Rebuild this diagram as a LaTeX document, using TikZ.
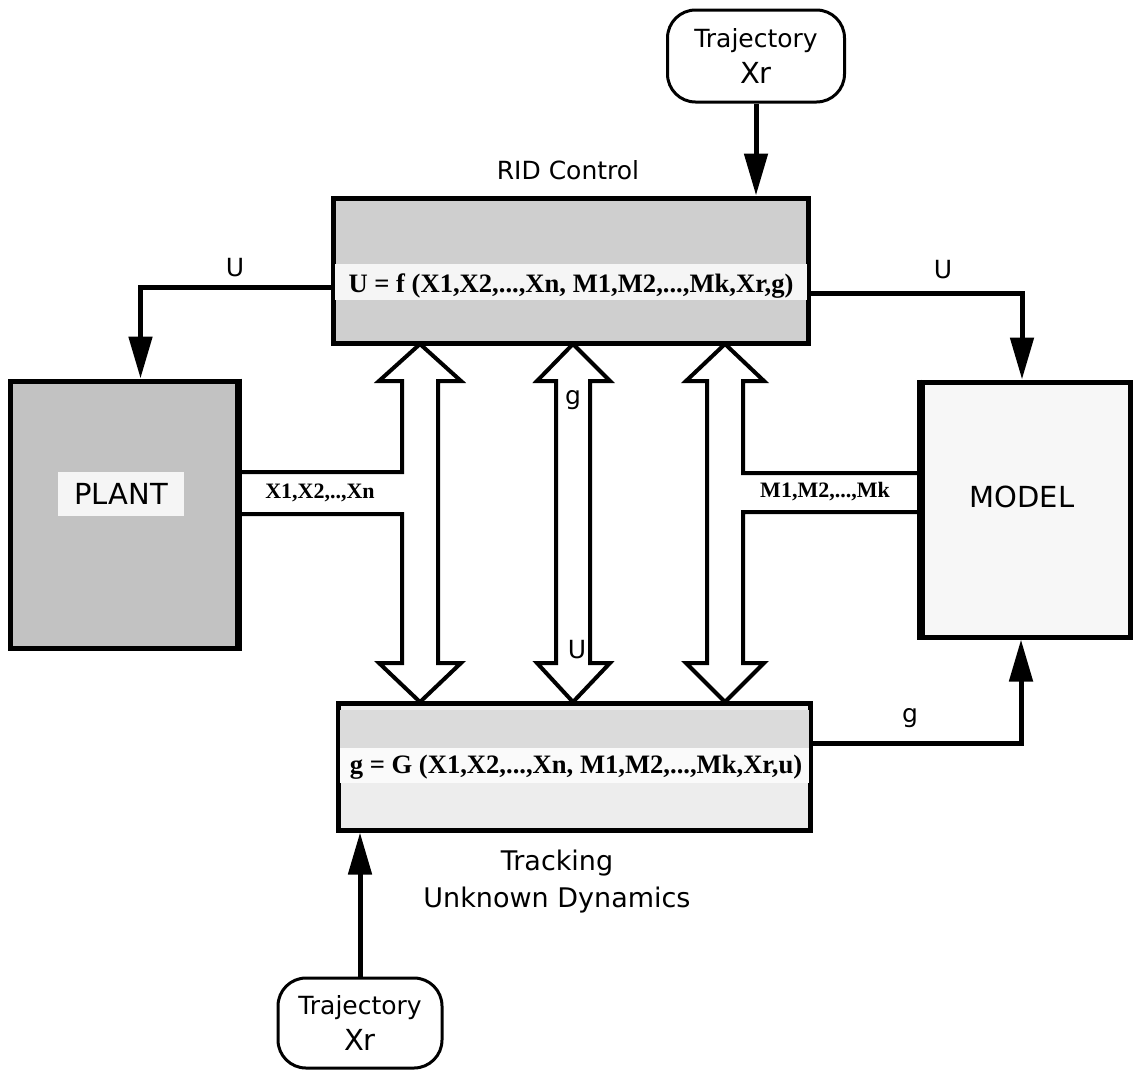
\documentclass[tikz,border=0pt]{standalone}
\usepackage{fontspec}
\setmainfont{Liberation Serif}
\setsansfont{DejaVu Sans}
\usetikzlibrary{arrows.meta,calc}
\begin{document}
\begin{tikzpicture}[x=0.5pt,y=-0.5pt,
  box/.style={draw,line width=2.5pt,inner sep=0pt},
  traj/.style={draw,line width=1.5pt,rounded corners=14pt,align=center,inner sep=0pt,
    font=\sffamily\fontsize{12.5}{15}\selectfont},
  conn/.style={line width=2.5pt,-{Triangle[length=21pt,width=11.5pt]}},
  dbl/.style={draw,line width=2pt,fill=white,line join=miter},
  lbl/.style={font=\sffamily\fontsize{12.5}{15}\selectfont,inner sep=0pt},
  big/.style={font=\sffamily\fontsize{14.5}{17}\selectfont,inner sep=0pt},
  eq/.style={font=\bfseries\fontsize{13.3}{16}\selectfont,inner sep=0pt},
  ch/.style={font=\bfseries\fontsize{11}{13}\selectfont,inner sep=0pt}]
\useasboundingbox[fill=white] (0,0) rectangle (1135,1072);

% coordinates for channel heights
\coordinate (xa) at (0,472);
\coordinate (xb) at (0,514);
\coordinate (ma) at (0,473);
\coordinate (mb) at (0,512);

% boxes
\node[traj,minimum width=88.5pt,minimum height=46pt] (trajTop) at (756,56)
  {Trajectory\\[3pt]{\fontsize{14.5}{16}\selectfont Xr}};
\node[traj,minimum width=82pt,minimum height=45pt] (trajBot) at (360,1023)
  {Trajectory\\[3pt]{\fontsize{14.5}{16}\selectfont Xr}};

\node[box,fill=gray!38,minimum width=237.5pt,minimum height=72.5pt] (rid) at (570.5,270.5) {};
\fill[gray!8] ($(rid.north west)+(4,68)$) rectangle ($(rid.north east)+(-4,104)$);
\node[eq] (feq) at (571,286) {U = f (X1,X2,...,Xn, M1,M2,...,Mk,Xr,g)};
\node[lbl] (ridlbl) at (568,170) {RID Control};

\node[box,fill=gray!48,minimum width=113.5pt,minimum height=133.5pt] (plant) at (123.5,514.5) {};
\node[big,fill=gray!8,minimum width=63pt,minimum height=22pt] (plantlbl) at (121,494) {PLANT};

\node[box,fill=gray!6,minimum width=104pt,minimum height=127.5pt] (model) at (1026,509.5) {};
\node[big] (modellbl) at (1022,497) {MODEL};

\node[box,fill=gray!14,minimum width=236pt,minimum height=63.5pt] (gbox) at (574,766.5) {};
\fill[gray!28] ($(gbox.north west)+(4,9)$) rectangle ($(gbox.north east)+(-4,47)$);
\fill[gray!4] ($(gbox.north west)+(4,47)$) rectangle ($(gbox.north east)+(-4,82)$);
\node[eq] (geq) at (576,767) {g = G (X1,X2,...,Xn, M1,M2,...,Mk,Xr,u)};

\node[lbl,font=\sffamily\fontsize{13.5}{18.5}\selectfont,align=center] (trk) at (557,882)
  {Tracking\\Unknown Dynamics};

% double arrows
\draw[dbl] (420,344) -- (461,381) -- (438,381) -- (438,663) -- (461,663) -- (420,702)
  -- (379,663) -- (402,663) -- (402,514) -- (plant.east |- xb) -- (plant.east |- xa)
  -- (402,472) -- (402,381) -- (379,381) -- cycle;
\draw[dbl] (573,344) -- (610,381) -- (590,381) -- (590,663) -- (610,663) -- (573,702)
  -- (537,663) -- (556,663) -- (556,381) -- (537,381) -- cycle;
\draw[dbl] (725,344) -- (764,381) -- (743,381) -- (743,473) -- (model.west |- ma)
  -- (model.west |- mb) -- (743,512) -- (743,663) -- (764,663) -- (725,702)
  -- (686,663) -- (707,663) -- (707,381) -- (686,381) -- cycle;
% restore box borders
\draw[line width=2.5pt] (plant.north east) -- (plant.south east);
\draw[line width=2.5pt] (model.north west) -- (model.south west);

\node[ch] (xlbl) at (320,493) {X1,X2,..,Xn};
\node[ch] (mlbl) at (825,492) {M1,M2,...,Mk};
\node[lbl] (glbl) at (573,400) {g};
\node[lbl] (ulbl) at (577,650) {U};

% connectors
\draw[conn] (trajTop.south) -- (trajTop.south |- rid.north);
\draw[conn] ($(rid.west)+(0,17)$) -| ($(plant.north)+(17,0)$);
\draw[conn] ($(rid.east)+(0,23)$) -| ($(model.north)+(-4,0)$);
\draw[conn] ($(gbox.east)+(0,-23)$) -| ($(model.south)+(-5,0)$);
\draw[conn] (trajBot.north) -- (trajBot.north |- gbox.south);

\node[lbl] (u1) at (235,268) {U};
\node[lbl] (u2) at (943,270) {U};
\node[lbl] (g2) at (910,718) {g};
\end{tikzpicture}
\end{document}
